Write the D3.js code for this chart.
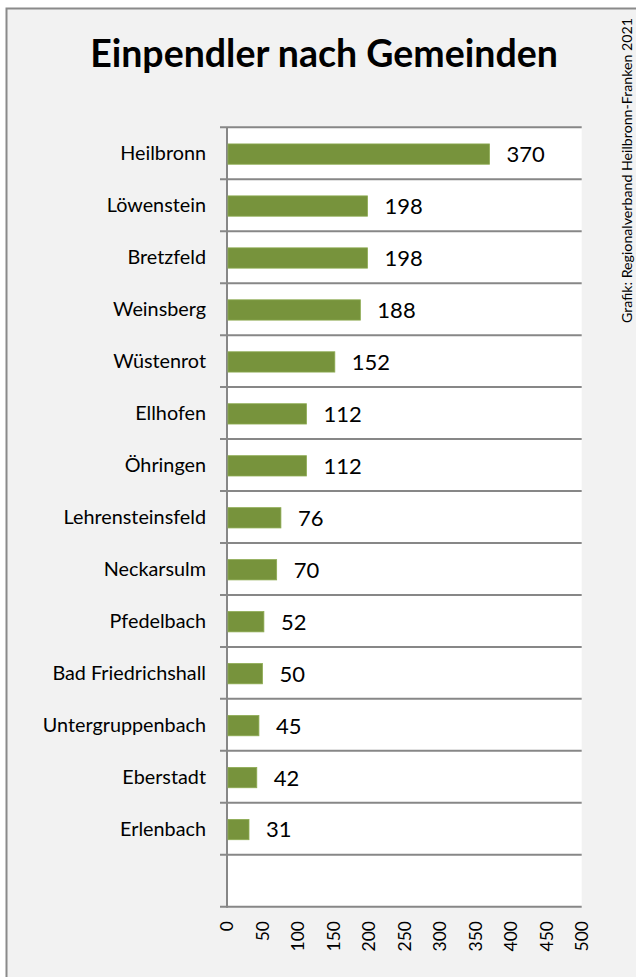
<!DOCTYPE html>
<html>
<head>
<meta charset="utf-8">
<script src="https://cdn.jsdelivr.net/npm/d3@7"></script>
<style>
  html, body { margin: 0; padding: 0; background: #ffffff; }
  svg { display: block; }
</style>
</head>
<body>
<script>
const categories = ["Heilbronn", "Löwenstein", "Bretzfeld", "Weinsberg", "Wüstenrot", "Ellhofen", "Öhringen",
  "Lehrensteinsfeld", "Neckarsulm", "Pfedelbach", "Bad Friedrichshall", "Untergruppenbach", "Eberstadt", "Erlenbach", ""];
const values = [370, 198, 198, 188, 152, 112, 112, 76, 70, 52, 50, 45, 42, 31, null];
const xTicks = [0, 50, 100, 150, 200, 250, 300, 350, 400, 450, 500];
const title = "Einpendler nach Gemeinden";
const source = "Grafik: Regionalverband Heilbronn-Franken 2021";

const W = 636, H = 977;
const font = "Lato, 'Open Sans', sans-serif";
const svg = d3.select("body").append("svg").attr("width", W).attr("height", H);

// frame
svg.append("rect").attr("x", 6.5).attr("y", 8.5).attr("width", W + 10).attr("height", H + 10)
  .attr("fill", "#f2f2f2").attr("stroke", "#8a8a8a").attr("stroke-width", 2);

const plot = { left: 227, right: 581.7, top: 127.3, bottom: 906.7 };

const x = d3.scaleLinear().domain([0, 500]).range([plot.left, plot.right]);
const y = d3.scaleBand().domain(d3.range(categories.length)).range([plot.top, plot.bottom]).padding(0);

// plot background
svg.append("rect").attr("x", plot.left).attr("y", plot.top)
  .attr("width", plot.right - plot.left).attr("height", plot.bottom - plot.top).attr("fill", "#ffffff");

// gridlines at category boundaries
const bounds = d3.range(categories.length + 1).map(i => plot.top + i * y.step());
svg.append("g").selectAll("line").data(bounds).join("line")
  .attr("x1", plot.left - 7).attr("x2", plot.right)
  .attr("y1", d => d).attr("y2", d => d)
  .attr("stroke", "#878787").attr("stroke-width", 2);

// vertical axis line
svg.append("line").attr("x1", plot.left).attr("x2", plot.left)
  .attr("y1", plot.top).attr("y2", plot.bottom + 1)
  .attr("stroke", "#878787").attr("stroke-width", 2);

// bars
const barH = 20.3;
const data = categories.map((c, i) => ({ c, v: values[i], i })).filter(d => d.v != null);
svg.append("g").selectAll("rect").data(data).join("rect")
  .attr("x", plot.left + 1)
  .attr("y", d => y(d.i) + y.bandwidth() / 2 - barH / 2 + 0.8)
  .attr("width", d => x(d.v) - plot.left - 1)
  .attr("height", barH)
  .attr("fill", "#77933c")
  .attr("stroke", "#8dab52").attr("stroke-width", 0.8);

// value labels
svg.append("g").selectAll("text").data(data).join("text")
  .attr("x", d => x(d.v) + 17)
  .attr("y", d => y(d.i) + y.bandwidth() / 2 + 0.8)
  .attr("dy", "0.36em")
  .attr("font-family", font).attr("font-size", 22).attr("fill", "#000")
  .text(d => d.v);

// category labels
svg.append("g").selectAll("text").data(categories).join("text")
  .attr("x", 206)
  .attr("y", (d, i) => y(i) + y.bandwidth() / 2)
  .attr("dy", "0.36em")
  .attr("text-anchor", "end")
  .attr("font-family", font).attr("font-size", 19.8).attr("fill", "#000")
  .text(d => d);

// x tick labels (rotated)
svg.append("g").selectAll("text").data(xTicks).join("text")
  .attr("transform", d => `translate(${x(d)},921) rotate(-90)`)
  .attr("text-anchor", "end")
  .attr("dy", "0.36em")
  .attr("font-family", font).attr("font-size", 17.5).attr("fill", "#000")
  .text(d => d);

// title
svg.append("text").attr("x", 324).attr("y", 67)
  .attr("text-anchor", "middle")
  .attr("font-family", font).attr("font-weight", "bold").attr("font-size", 37.5).attr("fill", "#000")
  .text(title);

// source text
svg.append("text")
  .attr("transform", "translate(627,18) rotate(-90)")
  .attr("text-anchor", "end").attr("dy", "0.36em")
  .attr("font-family", font).attr("font-size", 14.2).attr("fill", "#000")
  .text(source);
</script>
</body>
</html>
